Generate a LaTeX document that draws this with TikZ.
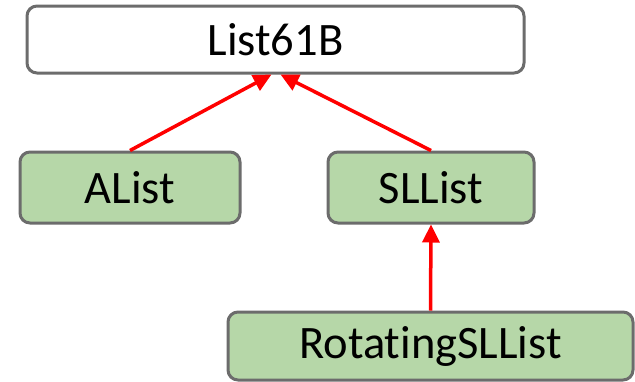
\documentclass[tikz,border=0pt]{standalone}
\usepackage{fontspec}
\setmainfont[Ligatures=NoCommon]{Carlito}
\usetikzlibrary{arrows.meta}
\definecolor{boxgray}{RGB}{108,108,108}
\definecolor{boxgreen}{HTML}{B6D7A8}
\definecolor{arrred}{RGB}{255,0,0}
\begin{document}
\begin{tikzpicture}[x=1pt,y=-1pt,
  cls/.style={draw=boxgray, line width=3pt, rounded corners=10pt, inner sep=0pt,
    font=\fontsize{46.5}{54}\selectfont, text=black},
  sub/.style={cls, fill=boxgreen},
  inh/.style={draw=arrred, line width=3.5pt, -{Triangle[length=18pt,width=17pt]}}]
\useasboundingbox (0,0) rectangle (635,381);
\node[cls, fill=white, minimum width=497pt, minimum height=67pt] (top) at (275.5,39.5) {List61B};
\node[sub, minimum width=220pt, minimum height=71pt] (alist) at (130,187.5) {AList};
\node[sub, minimum width=206pt, minimum height=71pt] (sllist) at (431,187.5) {SLList};
\node[sub, minimum width=405pt, minimum height=68pt] (rot) at (430.5,346) {RotatingSLList};
\coordinate (tl) at ([xshift=-4pt]top.south);
\coordinate (tr) at ([xshift=5pt]top.south);
\draw[inh] (alist.north) -- (tl);
\draw[inh] (sllist.north) -- (tr);
\draw[inh] (rot.north) -- (sllist.south);
\end{tikzpicture}
\end{document}
